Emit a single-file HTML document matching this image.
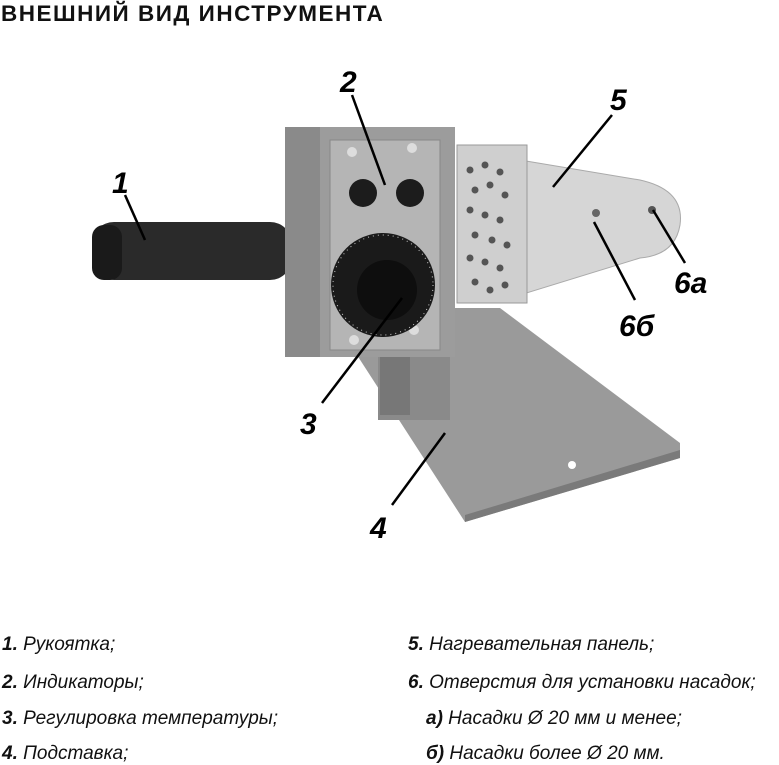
<!DOCTYPE html>
<html><head><meta charset="utf-8"><style>
body{margin:0;background:#fff;width:779px;height:765px;overflow:hidden;font-family:"Liberation Sans","DejaVu Sans",sans-serif}
.t{position:absolute;left:1px;top:1px;font-weight:bold;font-size:22.5px;color:#111;letter-spacing:1.5px}
.l{position:absolute;font-style:italic;font-size:19px;color:#111;white-space:nowrap;line-height:22px}
.l b{font-weight:bold}
</style></head><body>
<div class="t">ВНЕШНИЙ ВИД ИНСТРУМЕНТА</div>
<svg width="779" height="600" style="position:absolute;left:0;top:0">
<polygon points="410,308 500,308 680,443 680,458 465,522 355,352" fill="#9a9a9a"/>
<polygon points="680,450 465,515 465,522 680,458" fill="#7a7a7a"/>
<circle cx="572" cy="465" r="4" fill="#fff"/>
<rect x="378" y="340" width="72" height="80" fill="#8a8a8a"/>
<rect x="380" y="350" width="30" height="65" fill="#777"/>
<path d="M520,160 L640,180 Q685,190 680,225 Q675,255 640,258 L520,295 Z" fill="#d6d6d6" stroke="#aaa"/>
<circle cx="596" cy="213" r="4" fill="#666"/><circle cx="652" cy="210" r="4" fill="#555"/>
<rect x="457" y="145" width="70" height="158" fill="#cfcfcf" stroke="#999"/>
<g fill="#555">
<circle cx="470" cy="170" r="3.5"/><circle cx="485" cy="165" r="3.5"/><circle cx="500" cy="172" r="3.5"/>
<circle cx="475" cy="190" r="3.5"/><circle cx="490" cy="185" r="3.5"/><circle cx="505" cy="195" r="3.5"/>
<circle cx="470" cy="210" r="3.5"/><circle cx="485" cy="215" r="3.5"/><circle cx="500" cy="220" r="3.5"/>
<circle cx="475" cy="235" r="3.5"/><circle cx="492" cy="240" r="3.5"/><circle cx="507" cy="245" r="3.5"/>
<circle cx="470" cy="258" r="3.5"/><circle cx="485" cy="262" r="3.5"/><circle cx="500" cy="268" r="3.5"/>
<circle cx="475" cy="282" r="3.5"/><circle cx="490" cy="290" r="3.5"/><circle cx="505" cy="285" r="3.5"/>
</g>
<rect x="92" y="222" width="200" height="58" rx="22" fill="#2a2a2a"/>
<rect x="92" y="225" width="30" height="55" rx="12" fill="#1a1a1a"/>
<rect x="285" y="205" width="20" height="95" rx="8" fill="#222"/>
<rect x="285" y="127" width="170" height="230" fill="#9c9c9c"/>
<rect x="285" y="127" width="35" height="230" fill="#8a8a8a"/>
<rect x="330" y="140" width="110" height="210" fill="#b5b5b5" stroke="#888"/>
<circle cx="363" cy="193" r="14" fill="#1c1c1c"/><circle cx="410" cy="193" r="14" fill="#1c1c1c"/>
<circle cx="352" cy="152" r="5" fill="#ddd"/><circle cx="412" cy="148" r="5" fill="#ddd"/>
<circle cx="354" cy="340" r="5" fill="#ddd"/><circle cx="414" cy="330" r="5" fill="#ddd"/>
<circle cx="383" cy="285" r="52" fill="#1a1a1a"/>
<circle cx="383" cy="285" r="50" fill="none" stroke="#ccc" stroke-width="1" stroke-dasharray="1 4"/>
<circle cx="387" cy="290" r="30" fill="#0e0e0e"/>
<g stroke="#000" stroke-width="2.5">
<line x1="125" y1="195" x2="145" y2="240"/>
<line x1="352" y1="95" x2="385" y2="185"/>
<line x1="612" y1="115" x2="553" y2="187"/>
<line x1="685" y1="263" x2="653" y2="210"/>
<line x1="635" y1="300" x2="594" y2="222"/>
<line x1="322" y1="403" x2="402" y2="298"/>
<line x1="392" y1="505" x2="445" y2="433"/>
</g>
<g font-family="Liberation Sans,sans-serif" font-weight="bold" font-style="italic" font-size="30" fill="#000">
<text x="112" y="193">1</text><text x="340" y="92">2</text><text x="610" y="110">5</text>
<text x="674" y="293">6а</text><text x="619" y="336">6б</text>
<text x="300" y="434">3</text><text x="370" y="538">4</text>
</g>
</svg>
<div class="l" style="left:2px;top:634px"><b>1.</b> Рукоятка;</div>
<div class="l" style="left:2px;top:672px"><b>2.</b> Индикаторы;</div>
<div class="l" style="left:2px;top:708px"><b>3.</b> Регулировка температуры;</div>
<div class="l" style="left:2px;top:743px"><b>4.</b> Подставка;</div>
<div class="l" style="left:408px;top:634px"><b>5.</b> Нагревательная панель;</div>
<div class="l" style="left:408px;top:672px"><b>6.</b> Отверстия для установки насадок;</div>
<div class="l" style="left:426px;top:708px"><b>а)</b> Насадки Ø 20 мм и менее;</div>
<div class="l" style="left:426px;top:743px"><b>б)</b> Насадки более Ø 20 мм.</div>
</body></html>
